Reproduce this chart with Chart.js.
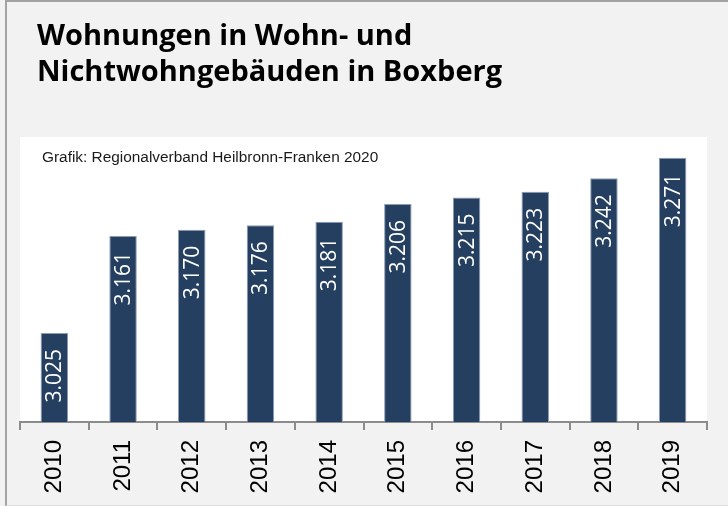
<!DOCTYPE html>
<html lang="de">
<head>
<meta charset="utf-8">
<title>Wohnungen in Wohn- und Nichtwohngebäuden in Boxberg</title>
<script src="https://cdn.jsdelivr.net/npm/chart.js@4/dist/chart.umd.min.js"></script>
<style>
  html, body { margin: 0; padding: 0; background: #f2f2f2; }
  #page { position: relative; width: 728px; height: 506px; overflow: hidden; }
  #frame {
    position: absolute; left: 5px; top: 0; width: 730px; height: 503px;
    border-top: 2px solid #a3a3a3; border-left: 2px solid #a3a3a3;
    border-bottom: 1px solid #dcdcdc;
  }
  #title {
    position: absolute; left: 37px; top: 16px; margin: 0;
    font: bold 29px/36px "Open Sans", sans-serif; color: #000;
  }
  #source {
    position: absolute; left: 42px; top: 149px; margin: 0;
    font: 15.4px/15px "Liberation Sans", Arial, sans-serif; color: #1a1a1a;
    z-index: 2;
  }
  #chart { position: absolute; left: 0; top: 0; }
</style>
</head>
<body>
<div id="page">
  <div id="frame"></div>
  <canvas id="chart" width="728" height="506"></canvas>
  <h1 id="title">Wohnungen in Wohn- und<br>Nichtwohngebäuden in Boxberg</h1>
  <p id="source">Grafik: Regionalverband Heilbronn-Franken 2020</p>
</div>
<script>
// Chart data
const years = ['2010', '2011', '2012', '2013', '2014', '2015', '2016', '2017', '2018', '2019'];
const dwellings = [3025, 3161, 3170, 3176, 3181, 3206, 3215, 3223, 3242, 3271];
const yMin = 2900;
const yMax = 3300;

// German number format: 3.025
function formatValue(v) {
  return v.toLocaleString('de-DE');
}

// White plot panel behind the bars
const panelPlugin = {
  id: 'panel',
  beforeDraw(chart) {
    const { ctx, chartArea } = chart;
    ctx.save();
    ctx.fillStyle = '#ffffff';
    ctx.fillRect(chartArea.left, chartArea.top,
      chartArea.right - chartArea.left, chartArea.bottom - chartArea.top);
    ctx.restore();
  },
};

// Rotated value labels inside the bars
const valueLabels = {
  id: 'valueLabels',
  afterDatasetsDraw(chart) {
    const ctx = chart.ctx;
    const meta = chart.getDatasetMeta(0);
    ctx.save();
    ctx.fillStyle = '#ffffff';
    ctx.font = '21px "Open Sans", sans-serif';
    ctx.textAlign = 'right';
    ctx.textBaseline = 'middle';
    meta.data.forEach((bar, i) => {
      ctx.save();
      ctx.translate(bar.x, bar.y + 16);
      ctx.rotate(-Math.PI / 2);
      ctx.fillText(formatValue(dwellings[i]), 0, 1);
      ctx.restore();
    });
    ctx.restore();
  },
};

const ctx = document.getElementById('chart').getContext('2d');
new Chart(ctx, {
  type: 'bar',
  data: {
    labels: years,
    datasets: [
      {
        label: 'Wohnungen',
        data: dwellings,
        backgroundColor: '#253f60',
        borderColor: '#8b9cb3',
        borderWidth: 1,
        categoryPercentage: 1,
        barPercentage: 0.4,
      },
    ],
  },
  options: {
    responsive: false,
    animation: false,
    layout: { padding: { top: 137, left: 20, right: 21, bottom: 0 } },
    plugins: {
      legend: { display: false },
      tooltip: { enabled: false },
      title: { display: false },
    },
    scales: {
      x: {
        offset: true,
        grid: {
          offset: true,
          drawOnChartArea: false,
          drawTicks: true,
          tickLength: 8,
          color: '#8c8c8c',
          lineWidth: 2,
        },
        border: { color: '#8c8c8c', width: 2 },
        ticks: {
          minRotation: 90,
          maxRotation: 90,
          padding: 10,
          color: '#000000',
          font: { family: '"Liberation Sans", Arial, sans-serif', size: 24 },
        },
        afterFit(scale) {
          scale.height = 84;
        },
      },
      y: { display: false, min: yMin, max: yMax },
    },
  },
  plugins: [panelPlugin, valueLabels],
});
</script>
</body>
</html>
